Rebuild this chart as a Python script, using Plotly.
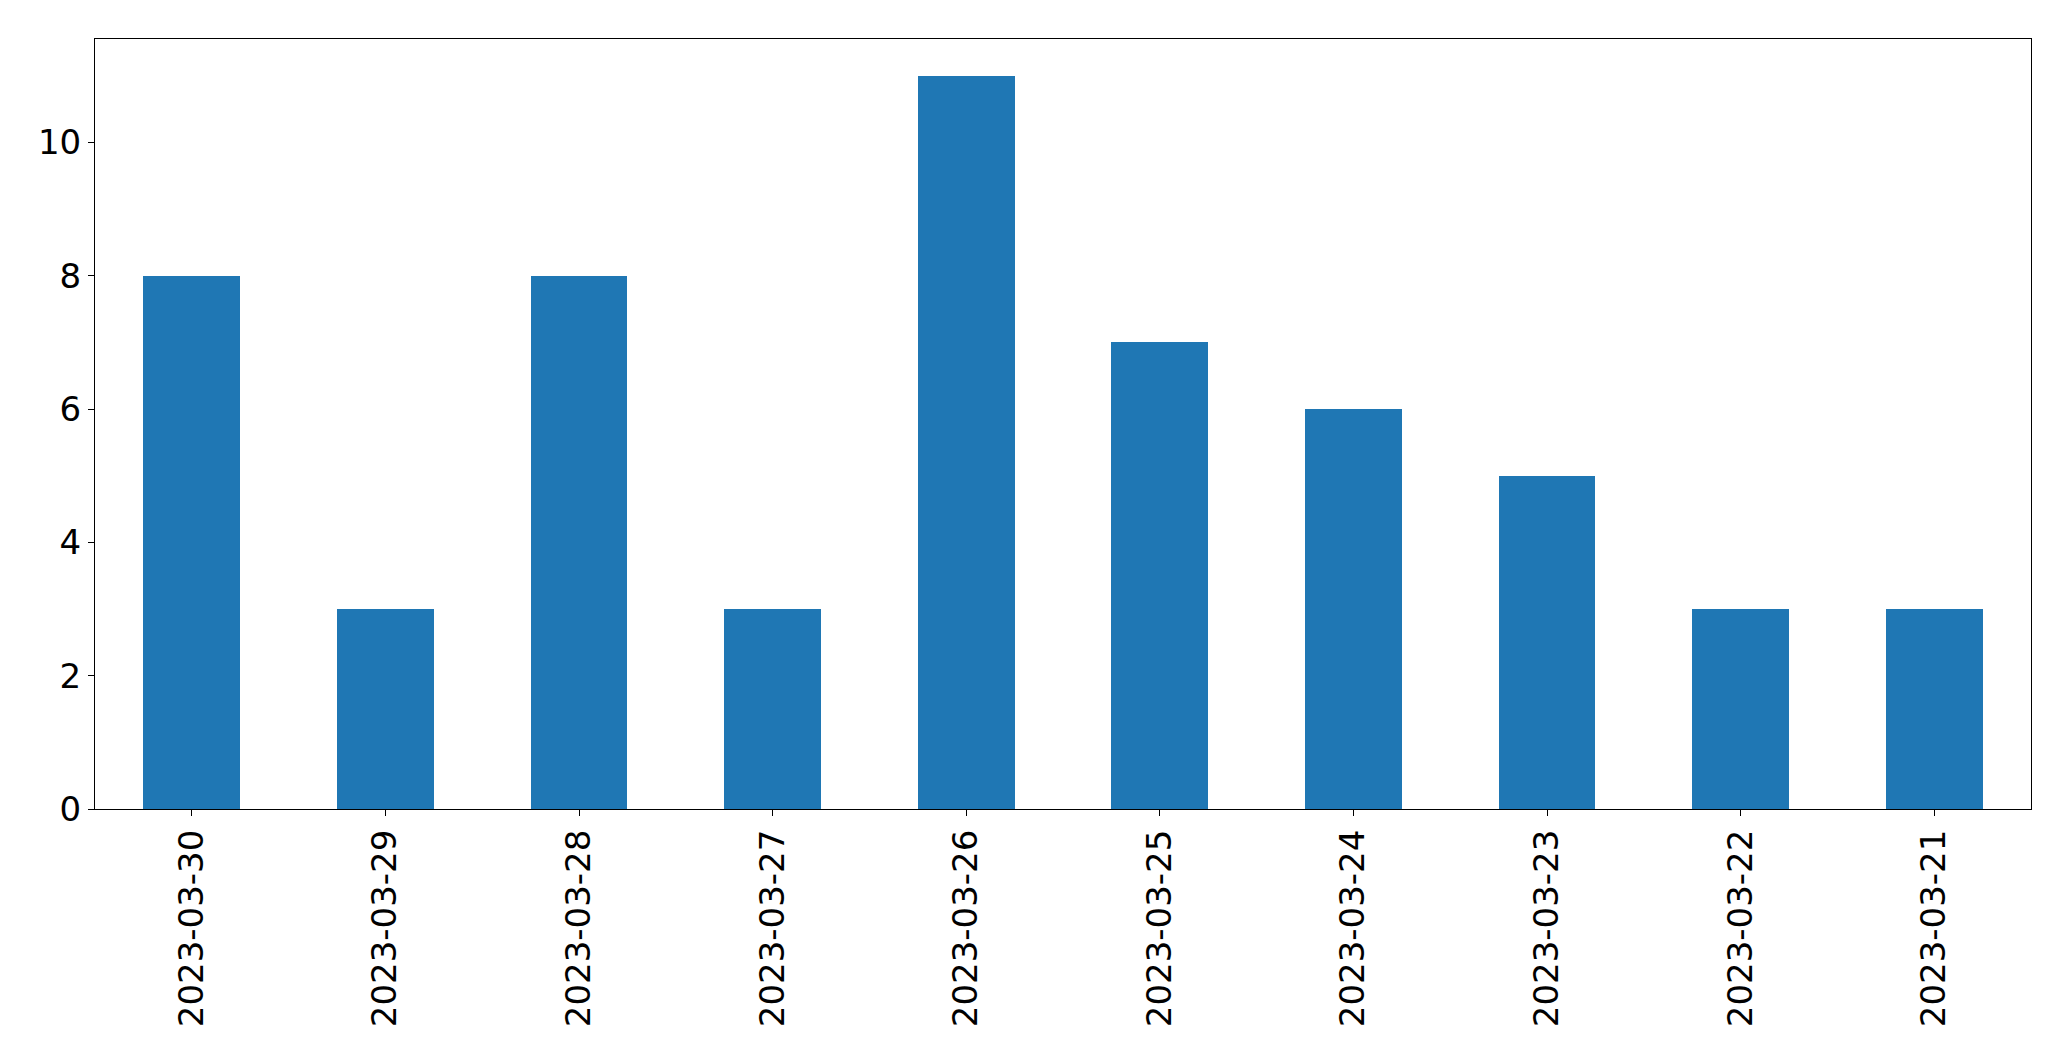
import plotly.graph_objects as go

dates = ["2023-03-30", "2023-03-29", "2023-03-28", "2023-03-27", "2023-03-26",
         "2023-03-25", "2023-03-24", "2023-03-23", "2023-03-22", "2023-03-21"]
counts = [8, 3, 8, 3, 11, 7, 6, 5, 3, 3]
y_ticks = [0, 2, 4, 6, 8, 10]

fig = go.Figure(go.Bar(
    x=list(range(len(dates))), y=counts, width=0.5,
    marker=dict(color="#1f77b4", line=dict(width=0)),
))

fig.update_layout(
    width=2071, height=1061,
    margin=dict(l=95, r=40, t=39, b=252, pad=0),
    plot_bgcolor="white", paper_bgcolor="white",
    font=dict(family="DejaVu Sans", size=34, color="black"),
    showlegend=False,
    bargap=0,
)
fig.update_xaxes(
    range=[-0.5, len(dates) - 0.5],
    tickmode="array", tickvals=list(range(len(dates))), ticktext=dates,
    tickangle=-90, ticks="outside", ticklen=6, tickwidth=1.1, tickcolor="black",
    showline=True, linecolor="black", linewidth=1.1, mirror=True,
    showgrid=False, zeroline=False,
)
fig.update_yaxes(
    range=[0, max(counts) * 1.05],
    tickmode="array", tickvals=y_ticks,
    ticks="outside", ticklen=6, tickwidth=1.1, tickcolor="black",
    showline=True, linecolor="black", linewidth=1.1, mirror=True,
    showgrid=False, zeroline=False,
)

fig.write_html("out.html")
